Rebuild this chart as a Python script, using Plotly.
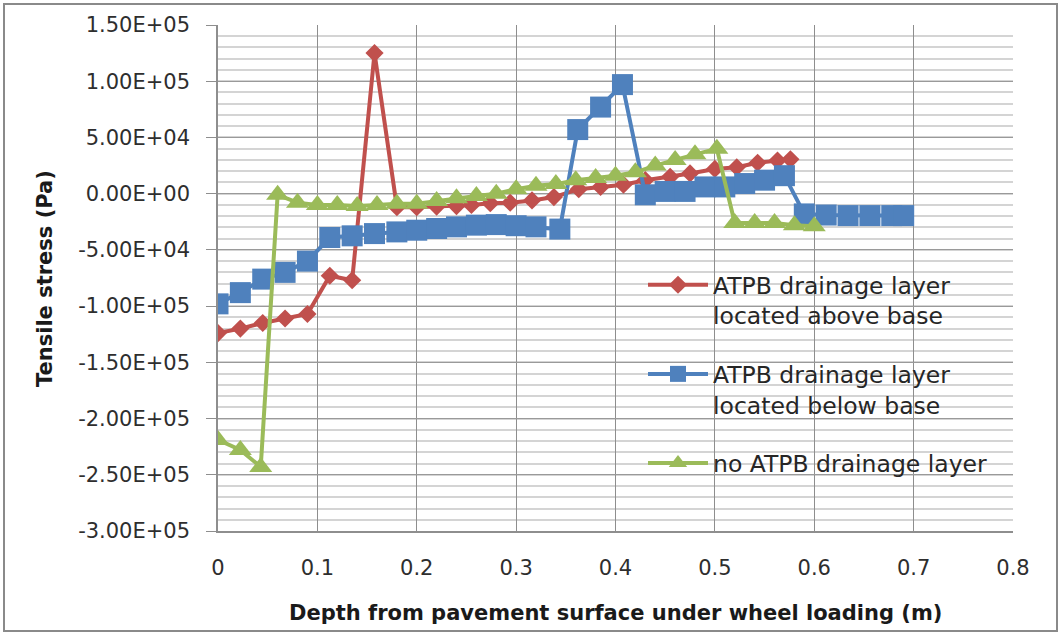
import plotly.graph_objects as go

# Depth below pavement surface (m) and tensile stress (Pa) for each structure
depth_above = [0.0, 0.0225, 0.045, 0.0675, 0.09, 0.1125, 0.135, 0.1575, 0.18, 0.2, 0.22,
               0.24, 0.255, 0.274, 0.294, 0.316, 0.338, 0.363, 0.385, 0.408, 0.43, 0.455,
               0.475, 0.5, 0.522, 0.543, 0.563, 0.576]
stress_above = [-124000, -120000, -115000, -111000, -107000, -73000, -77000, 125000, -12000,
                -12000, -11500, -11000, -10000, -8500, -8000, -6000, -3000, 4000, 6000, 8000,
                12000, 15000, 18000, 22000, 23500, 27500, 29500, 30500]

depth_below = [0.0, 0.0225, 0.045, 0.0675, 0.09, 0.1125, 0.135, 0.1575, 0.18, 0.2, 0.22,
               0.24, 0.26, 0.28, 0.3, 0.32, 0.344, 0.362, 0.385, 0.407, 0.43, 0.45, 0.47,
               0.49, 0.51, 0.53, 0.55, 0.57, 0.59, 0.612, 0.634, 0.656, 0.678, 0.69]
stress_below = [-98000, -88000, -76000, -70000, -60000, -39000, -37500, -35500, -34000,
                -32500, -31000, -29500, -28000, -27500, -28500, -29500, -31500, 57000, 77000,
                97000, -1000, 2000, 2000, 6000, 6000, 9000, 12000, 16000, -18000, -19000,
                -19500, -19500, -19500, -19500]

depth_none = [0.0, 0.0225, 0.043, 0.06, 0.08, 0.1, 0.12, 0.14, 0.16, 0.18, 0.2, 0.22, 0.24,
              0.26, 0.28, 0.3, 0.32, 0.34, 0.36, 0.38, 0.4, 0.42, 0.44, 0.46, 0.48, 0.502,
              0.52, 0.54, 0.56, 0.58, 0.6]
stress_none = [-219000, -228000, -243000, -1000, -8000, -10000, -10000, -11000, -10000,
               -9000, -9000, -6500, -4000, -2000, 0, 4000, 7000, 8500, 12000, 14000, 16000,
               19000, 25000, 30000, 35000, 40000, -26000, -26000, -26000, -28000, -29000]

series_names = ["ATPB drainage layer<br>located above base",
                "ATPB drainage layer<br>located below base",
                "no ATPB drainage layer"]

y_tickvals = [150000, 100000, 50000, 0, -50000, -100000, -150000, -200000, -250000, -300000]
y_ticktext = ["1.50E+05", "1.00E+05", "5.00E+04", "0.00E+00", "-5.00E+04", "-1.00E+05",
              "-1.50E+05", "-2.00E+05", "-2.50E+05", "-3.00E+05"]
x_tickvals = [0, 0.1, 0.2, 0.3, 0.4, 0.5, 0.6, 0.7, 0.8]
x_ticktext = ["0", "0.1", "0.2", "0.3", "0.4", "0.5", "0.6", "0.7", "0.8"]

RED, BLUE, GREEN = "#C0504D", "#4F81BD", "#9BBB59"
FONT = "DejaVu Sans"

W, H = 1061, 635
ML, MR, MT, MB = 218, 48, 25, 104
PW, PH = W - ML - MR, H - MT - MB

fig = go.Figure()
fig.add_trace(go.Scatter(
    x=depth_above, y=stress_above, mode="lines+markers", name=series_names[0],
    legendgroup="a", line=dict(color=RED, width=4),
    marker=dict(symbol="diamond", size=14, color=RED)))
fig.add_trace(go.Scatter(
    x=depth_below, y=stress_below, mode="lines+markers", name=series_names[1],
    legendgroup="b", line=dict(color=BLUE, width=4),
    marker=dict(symbol="square", size=21, color=BLUE)))
fig.add_trace(go.Scatter(
    x=depth_none, y=stress_none, mode="lines+markers", name=series_names[2],
    legendgroup="c", line=dict(color=GREEN, width=4),
    marker=dict(symbol="triangle-up", size=20, color=GREEN)))

# outer chart border
fig.add_shape(type="rect", xref="paper", yref="paper", layer="below",
              x0=(4 - ML) / PW, x1=(W - 4 - ML) / PW,
              y0=-(H - 4 - MT - PH) / PH, y1=1 + (MT - 4) / PH,
              line=dict(color="#8A8A8A", width=2))

fig.update_layout(
    width=W, height=H,
    margin=dict(l=ML, r=MR, t=MT, b=MB),
    paper_bgcolor="white", plot_bgcolor="white",
    font=dict(family=FONT, size=21, color="#2E2E2E"),
    showlegend=True,
    legend=dict(x=(643 - ML) / PW, y=(531 - 263) / PH, xanchor="left", yanchor="top",
                bgcolor="rgba(0,0,0,0)", font=dict(family=FONT, size=23.5, color="#262626"),
                tracegroupgap=25, valign="top", itemwidth=60),
    xaxis=dict(range=[0, 0.8], tickvals=x_tickvals, ticktext=x_ticktext,
               showgrid=True, gridcolor="#8E8E8E", gridwidth=1,
               showline=True, linecolor="#8E8E8E", linewidth=1.5,
               ticks="", ticklabelstandoff=17, zeroline=False,
               tickfont=dict(family=FONT, size=21, color="#2E2E2E")),
    yaxis=dict(range=[-300000, 150000], tickvals=y_tickvals, ticktext=y_ticktext,
               showgrid=True, gridcolor="#9A9A9A", gridwidth=1,
               showline=True, linecolor="#8E8E8E", linewidth=1.5,
               ticks="outside", ticklen=10, tickcolor="#8E8E8E", ticklabelstandoff=12,
               zeroline=False,
               minor=dict(dtick=10000, showgrid=True, gridcolor="#D4D4D4", gridwidth=2),
               tickfont=dict(family=FONT, size=21, color="#2E2E2E")),
    annotations=[
        dict(text="<b>Depth from pavement surface under wheel loading (m)</b>",
             xref="paper", yref="paper", x=0.5 + ((279 + 952) / 2 - ML - PW / 2) / PW,
             y=-(613 - MT - PH) / PH, xanchor="center", yanchor="middle", showarrow=False,
             font=dict(family=FONT, size=21, color="#1A1A1A")),
        dict(text="<b>Tensile stress (Pa)</b>", textangle=-90,
             xref="paper", yref="paper", x=(45 - ML) / PW, y=(531 - 279) / PH,
             xanchor="center", yanchor="middle", showarrow=False,
             font=dict(family=FONT, size=21, color="#1A1A1A")),
    ],
)

fig.write_html("out.html")
